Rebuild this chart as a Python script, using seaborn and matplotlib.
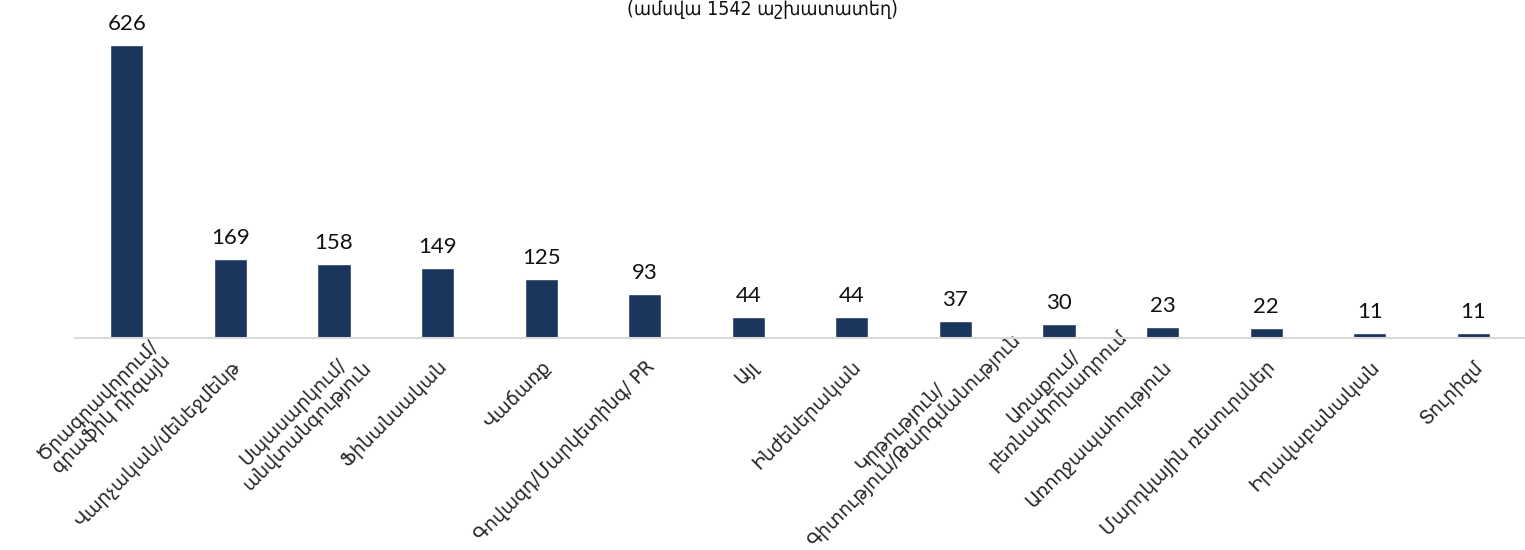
import pandas as pd
import matplotlib
matplotlib.use('Agg')
import matplotlib.pyplot as plt
import matplotlib.transforms as mtransforms
import seaborn as sns

# categories and counts
categories = [
    'Ծրագրավորում/\nգրաֆիկ դիզայն',
    'Վարչական/մենեջմենթ',
    'Սպասարկում/\nանվտանգություն',
    'Ֆինանսական',
    'Վաճառք',
    'Գովազդ/Մարկետինգ/ PR',
    'Այլ',
    'Ինժեներական',
    'Կրթություն/\nԳիտություն/Թարգմանություն',
    'Առաքում/\nբեռնափոխադրում',
    'Առողջապահություն',
    'Մարդկային ռեսուրսներ',
    'Իրավաբանական',
    'Տուրիզմ',
]
jobs = [626, 169, 158, 149, 125, 93, 44, 44, 37, 30, 23, 22, 11, 11]
title = '(ամսվա 1542 աշխատատեղ)'

df = pd.DataFrame({'Category': categories, 'Jobs': jobs})

sns.set_theme(style='white')
plt.rcParams['font.family'] = ['DejaVu Sans']

fig = plt.figure(figsize=(15.25, 5.5), dpi=100)
ax = fig.add_axes([75 / 1525, 1 - 338 / 550, 1 - 75 / 1525, 338 / 550])

sns.barplot(x='Category', y='Jobs', data=df, color='#1b365d', width=0.32,
            saturation=1, ax=ax)

ax.set_xlim(-0.5, 13.5)
ax.set_ylim(0, 626 * 338 / 293)
ax.bar_label(ax.containers[0], padding=8, fontsize=16, family='Lato', color='#111111')

ax.set_xlabel('')
ax.set_ylabel('')
ax.set_yticks([])
ax.set_xticks(range(len(categories)))
ax.set_xticklabels(categories, rotation=45, ha='right', va='top',
                   rotation_mode='anchor', multialignment='center', fontsize=13.5,
                   linespacing=1.05)
ax.tick_params(axis='x', length=0, pad=14)

# Excel pushes the wrapped labels further along their baseline
nudge = {0: 22, 2: 14, 8: 42, 9: 45}
for i, lab in enumerate(ax.get_xticklabels()):
    d = nudge.get(i, 0) / 72 * 0.7071
    lab.set_transform(lab.get_transform() +
                      mtransforms.ScaledTranslation(d, d, fig.dpi_scale_trans))

for s in ['top', 'left', 'right']:
    ax.spines[s].set_visible(False)
ax.spines['bottom'].set_color('#d9d9d9')
ax.spines['bottom'].set_linewidth(1.5)

fig.text(0.5, 1.0, title, ha='center', va='top', fontsize=14,
         fontstretch='condensed', color='#111111')

fig.savefig('out.png', dpi=100)
